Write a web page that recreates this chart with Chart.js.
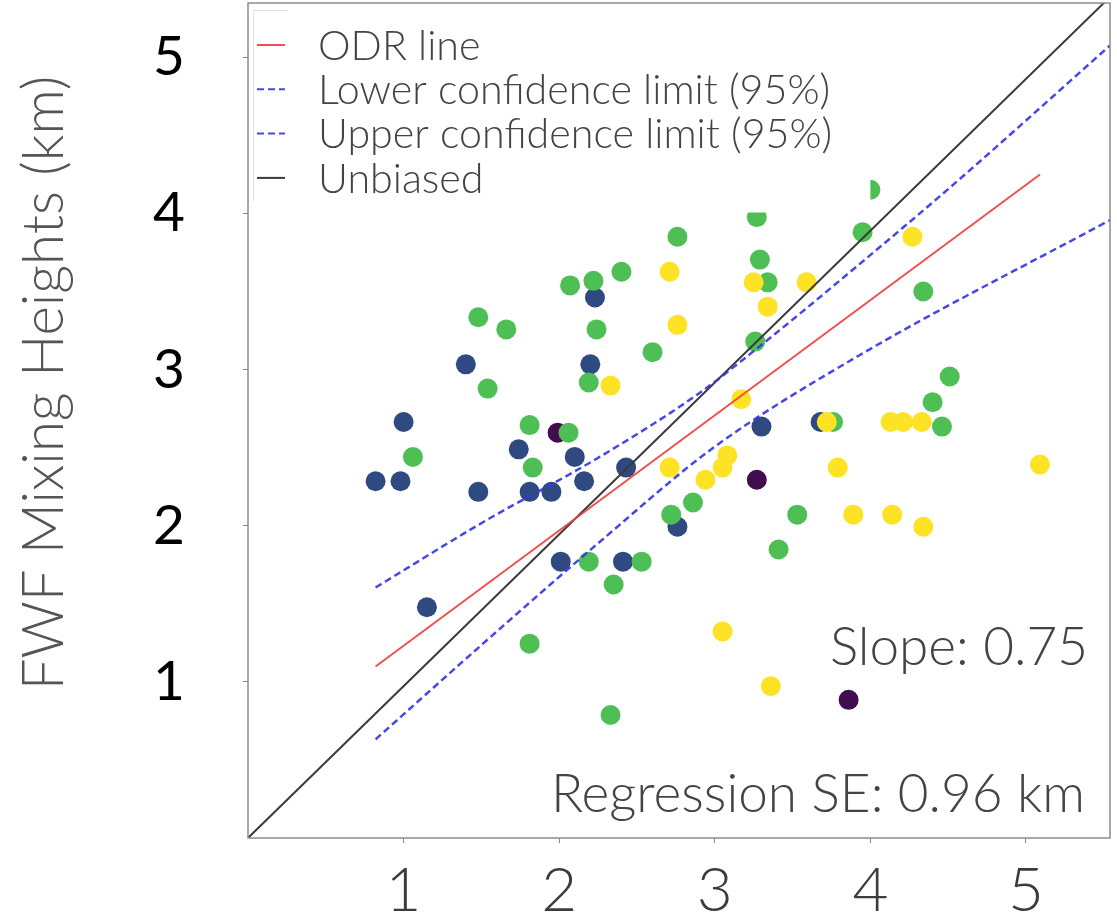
<!DOCTYPE html>
<html>
<head>
<meta charset="utf-8">
<title>FWF mixing heights</title>
<script src="https://cdn.jsdelivr.net/npm/chart.js@4.4.1/dist/chart.umd.min.js"></script>
<style>
  html, body { margin: 0; padding: 0; background: #fff; }
</style>
</head>
<body>
<canvas id="myChart" width="1117" height="922"></canvas>
<script>
// points, split by colour group
var navyX = [0.82, 0.98, 1.00, 1.15, 1.40, 1.48, 1.74, 1.81, 1.95, 2.10, 2.16, 2.20, 2.23, 2.01, 2.41, 2.43, 2.76, 3.30, 3.68];
var navyY = [2.35, 2.35, 2.74, 1.52, 3.12, 2.28, 2.56, 2.28, 2.28, 2.51, 2.35, 3.12, 3.56, 1.82, 1.82, 2.44, 2.05, 2.71, 2.74];

var greenX = [1.06, 1.48, 1.66, 1.54, 1.81, 1.83, 1.81, 2.06, 2.07, 2.22, 2.24, 2.19, 2.19, 2.53, 2.35, 2.33, 2.40, 2.60,
              2.76, 2.86, 2.72, 3.27, 3.29, 3.34, 3.26, 3.41, 3.53, 3.76, 3.95, 4.00, 4.34, 4.51, 4.40, 4.46];
var greenY = [2.51, 3.43, 3.35, 2.96, 2.72, 2.44, 1.28, 2.67, 3.64, 3.67, 3.35, 3.00, 1.82, 1.82, 1.67, 0.81, 3.73, 3.20,
              3.96, 2.21, 2.13, 4.09, 3.81, 3.66, 3.27, 1.90, 2.13, 2.74, 3.99, 4.27, 3.60, 3.04, 2.87, 2.71];

var yellowX = [2.33, 2.71, 2.76, 3.25, 3.34, 3.59, 3.17, 3.72, 4.13, 4.21, 4.33, 4.27, 2.71, 3.08, 3.05, 2.94, 3.79, 3.89,
               4.14, 4.34, 5.09, 3.05, 3.36];
var yellowY = [2.98, 3.73, 3.38, 3.66, 3.50, 3.66, 2.89, 2.74, 2.74, 2.74, 2.74, 3.96, 2.44, 2.52, 2.44, 2.36, 2.44, 2.13,
               2.13, 2.05, 2.46, 1.36, 1.00];

var purpleX = [1.99, 3.27, 3.86];
var purpleY = [2.67, 2.36, 0.91];

// fitted lines
var odrX = [0.82, 5.09];
var odrY = [1.13, 4.37];
var lowerX = [0.82, 1.51, 2.26, 2.99, 3.93, 5.54];
var lowerY = [0.65, 1.28, 1.95, 2.57, 3.18, 4.07];
var upperX = [0.82, 1.51, 2.26, 2.90, 3.29, 3.93, 4.54, 5.54];
var upperY = [1.65, 2.08, 2.51, 2.93, 3.24, 3.78, 4.31, 5.22];
var unbiasedX = [0, 5.6];
var unbiasedY = [0, 5.6];

var tickValues = [1, 2, 3, 4, 5];
var slopeText = 'Slope: 0.75';
var seText = 'Regression SE: 0.96 km';
var yTitle = 'FWF Mixing Heights (km)';

var FONT = "Lato, 'Open Sans', 'DejaVu Sans', sans-serif";

function pts(xs, ys) {
  return xs.map(function (x, i) { return { x: x, y: ys[i] }; });
}

// pick a font size so the text spans the given width
function fitFont(ctx, text, width, weight, family) {
  ctx.font = weight + ' 100px ' + family;
  var s = 100 * width / ctx.measureText(text).width;
  return { str: weight + ' ' + s.toFixed(1) + 'px ' + family, size: s };
}

function dots(label, xs, ys, color, order) {
  return {
    label: label, data: pts(xs, ys), order: order,
    backgroundColor: color, borderWidth: 0,
    pointRadius: 10, pointHoverRadius: 10
  };
}

function line(label, xs, ys, color, dash, width) {
  return {
    label: label, data: pts(xs, ys), order: 0, showLine: true, isLegend: true,
    borderColor: color, borderDash: dash, borderWidth: width,
    pointRadius: 0, pointHoverRadius: 0, fill: false,
    cubicInterpolationMode: 'monotone'
  };
}

function noPad(s) {
  s.paddingTop = 0; s.paddingBottom = 0; s.paddingLeft = 0; s.paddingRight = 0;
}

var overlay = {
  id: 'overlay',
  afterDatasetsDraw: function (chart) {
    var ctx = chart.ctx, a = chart.chartArea;
    var xs = chart.scales.x, ys = chart.scales.y;
    ctx.save();

    // white patch behind the legend, it hides the points under it
    var boxR = xs.getPixelForValue(4.0);
    var boxB = ys.getPixelForValue(4.12);
    ctx.fillStyle = '#ffffff';
    ctx.fillRect(a.left + 40, a.top, boxR - a.left - 40, boxB - a.top);

    // faint bit of the old legend frame
    ctx.strokeStyle = '#e0e0e0';
    ctx.lineWidth = 1;
    ctx.beginPath();
    ctx.moveTo(a.left + 40, a.top + 7.5);
    ctx.lineTo(a.left + 5.5, a.top + 7.5);
    ctx.lineTo(a.left + 5.5, a.top + 198);
    ctx.stroke();

    // legend
    var items = chart.data.datasets.filter(function (d) { return d.isLegend; });
    var lf = fitFont(ctx, 'Lower confidence limit (95%)', 512, '300', FONT);
    ctx.font = lf.str;
    ctx.textAlign = 'left';
    ctx.textBaseline = 'alphabetic';
    items.forEach(function (d, i) {
      var cy = a.top + 42 + i * 44.3;
      ctx.strokeStyle = d.borderColor;
      ctx.lineWidth = 2;
      ctx.setLineDash(d.borderDash || []);
      ctx.beginPath();
      ctx.moveTo(a.left + 9, cy);
      ctx.lineTo(a.left + 37, cy);
      ctx.stroke();
      ctx.setLineDash([]);
      ctx.fillStyle = '#444';
      ctx.fillText(d.label, a.left + 70, cy + lf.size * 0.36);
    });
    ctx.restore();
  },
  afterDraw: function (chart) {
    var ctx = chart.ctx, a = chart.chartArea;
    ctx.save();
    // plot frame
    ctx.strokeStyle = '#8c8c8c';
    ctx.lineWidth = 1.5;
    ctx.strokeRect(a.left, a.top, a.right - a.left, a.bottom - a.top);

    // annotations
    var af = fitFont(ctx, seText, 534, '300', FONT);
    ctx.font = af.str;
    ctx.fillStyle = '#444';
    ctx.textAlign = 'right';
    ctx.textBaseline = 'alphabetic';
    ctx.fillText(slopeText, a.right - 22, 665);
    ctx.fillText(seText, a.right - 25, 812);

    // y axis title
    var tf = fitFont(ctx, yTitle, 615, '300', FONT);
    ctx.font = tf.str;
    ctx.fillStyle = '#555';
    ctx.textAlign = 'center';
    ctx.textBaseline = 'middle';
    ctx.translate(45, 383);
    ctx.rotate(-Math.PI / 2);
    ctx.fillText(yTitle, 0, 0);
    ctx.restore();
  }
};

var ctx = document.getElementById('myChart').getContext('2d');
var myChart = new Chart(ctx, {
  type: 'scatter',
  data: {
    datasets: [
      line('ODR line', odrX, odrY, 'rgba(240, 70, 70, 0.95)', [], 2),
      line('Lower confidence limit (95%)', lowerX, lowerY, 'rgba(55, 55, 230, 0.92)', [7, 4], 2.5),
      line('Upper confidence limit (95%)', upperX, upperY, 'rgba(55, 55, 230, 0.92)', [7, 4], 2.5),
      line('Unbiased', unbiasedX, unbiasedY, '#3a3a3a', [], 2),
      dots('yellow', yellowX, yellowY, '#fde226', 1),
      dots('green', greenX, greenY, '#4dbf55', 2),
      dots('navy', navyX, navyY, '#2f4a80', 3),
      dots('purple', purpleX, purpleY, '#420d4e', 4)
    ]
  },
  options: {
    responsive: false,
    animation: false,
    events: [],
    // no auto padding, the plot box has to sit where the figure has it
    layout: { autoPadding: false, padding: { top: 3, right: 7, left: 0, bottom: 0 } },
    plugins: {
      legend: { display: false },
      tooltip: { enabled: false }
    },
    scales: {
      x: {
        type: 'linear', min: 0, max: 5.54,
        afterBuildTicks: function (s) { s.ticks = tickValues.map(function (v) { return { value: v }; }); },
        ticks: {
          color: '#3c3c3c', padding: 11, maxRotation: 0, autoSkip: false,
          font: { family: FONT, size: 62, weight: '300' }
        },
        grid: { drawOnChartArea: false, tickLength: 5, color: '#888' },
        border: { display: false },
        afterFit: function (s) { s.height = 84; noPad(s); }
      },
      // data axis (unbiased line is y = x on it)
      y: {
        type: 'linear', min: 0, max: 5.5, display: false,
        ticks: { display: false },
        afterFit: noPad
      },
      // the printed tick labels sit on a slightly different spacing
      yt: {
        type: 'linear', axis: 'y', position: 'left', min: 0, max: 5.35,
        afterBuildTicks: function (s) { s.ticks = tickValues.map(function (v) { return { value: v }; }); },
        ticks: {
          color: '#000', padding: 58,
          font: { family: FONT, size: 55 }
        },
        grid: { drawOnChartArea: false, tickLength: 5, color: '#888' },
        border: { display: false },
        afterFit: function (s) { s.width = 248; noPad(s); }
      }
    }
  },
  plugins: [overlay]
});
</script>
</body>
</html>
